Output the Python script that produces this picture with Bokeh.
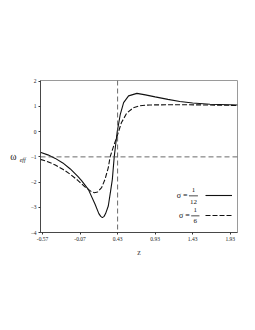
from bokeh.plotting import figure
from bokeh.models import (Range1d, FixedTicker, Span, Label, Legend, LegendItem,
                          BoxAnnotation, LinearAxis)
from bokeh.embed import file_html
from bokeh.resources import INLINE

# ---- data ----
z_a = [-0.6, -0.5, -0.4, -0.3, -0.2, -0.1, -0.05, 0.04, 0.13, 0.18, 0.205, 0.227,
       0.25, 0.27, 0.306, 0.337, 0.36, 0.385, 0.405, 0.425, 0.466, 0.51, 0.576,
       0.687, 0.8, 0.93, 1.1, 1.26, 1.43, 1.66, 2.03]
w_a = [-0.82, -0.92, -1.06, -1.24, -1.48, -1.77, -1.94, -2.29, -2.88, -3.25, -3.36, -3.41,
       -3.36, -3.25, -2.95, -2.35, -1.89, -1.0, -0.5, 0.0, 0.69, 1.15, 1.42,
       1.52, 1.46, 1.38, 1.28, 1.20, 1.14, 1.09, 1.06]

z_b = [-0.6, -0.5, -0.4, -0.3, -0.2, -0.1, -0.005, 0.041, 0.085, 0.12, 0.164, 0.217,
       0.262, 0.306, 0.33, 0.38, 0.43, 0.48, 0.55, 0.64, 0.73, 0.86, 1.2, 1.6, 2.03]
w_b = [-1.10, -1.19, -1.32, -1.49, -1.69, -1.93, -2.19, -2.29, -2.39, -2.42, -2.39, -2.22,
       -1.89, -1.43, -1.0, -0.55, -0.12, 0.35, 0.73, 0.95, 1.03, 1.06, 1.07, 1.06, 1.04]

x_ticks = [-0.57, -0.07, 0.43, 0.93, 1.43, 1.93]
x_tick_labels = ["-0.57", "-0.07", "0.43", "0.93", "1.43", "1.93"]
y_ticks = [-4, -3, -2, -1, 0, 1, 2]
ref_w = -1
ref_z = 0.43

SERIF = "Liberation Serif"

p = figure(width=247, height=322, output_backend="svg", toolbar_location=None,
           x_range=Range1d(-0.597, 2.027), y_range=Range1d(-4.0, 2.03),
           min_border_left=40, min_border_right=10, min_border_top=80,
           min_border_bottom=90, background_fill_color="white",
           border_fill_color="white")
p.grid.visible = False
p.outline_line_color = "#9a9a9a"
p.outline_line_width = 1

for ax in (p.xaxis[0], p.yaxis[0]):
    ax.axis_line_color = "#333333"
    ax.axis_line_width = 0.8
    ax.major_tick_line_color = "#333333"
    ax.major_tick_out = 2
    ax.major_tick_in = 0
    ax.minor_tick_line_color = None
    ax.major_label_text_font = SERIF
    ax.major_label_text_font_size = "5.5px"
    ax.major_label_text_color = "#222222"
    ax.major_label_standoff = 2

p.xaxis.ticker = FixedTicker(ticks=x_ticks)
p.xaxis.major_label_overrides = {t: l for t, l in zip(x_ticks, x_tick_labels)}
p.yaxis.ticker = FixedTicker(ticks=y_ticks)
p.xaxis.axis_label = "z"
p.xaxis.axis_label_text_font = SERIF
p.xaxis.axis_label_text_font_style = "normal"
p.xaxis.axis_label_text_font_size = "8px"
p.xaxis.axis_label_standoff = 4

# y-axis label  ω_eff : subscript on the inner axis, ω on an outer label-only axis
yax = p.yaxis[0]
yax.axis_label = "\neff"
yax.axis_label_orientation = "horizontal"
yax.axis_label_text_font = SERIF
yax.axis_label_text_font_size = "6px"
yax.axis_label_text_font_style = "italic"
yax.axis_label_text_color = "#111111"
yax.axis_label_standoff = 2

omega_axis = LinearAxis(axis_label="ω", ticker=FixedTicker(ticks=[]),
                        axis_line_color=None, major_tick_line_color=None,
                        minor_tick_line_color=None,
                        major_label_text_font_size="0px",
                        axis_label_orientation="horizontal",
                        axis_label_text_font=SERIF,
                        axis_label_text_font_size="9.5px",
                        axis_label_text_font_style="normal",
                        axis_label_text_color="#111111",
                        axis_label_standoff=0)
p.add_layout(omega_axis, "left")

# reference lines
p.add_layout(Span(location=ref_w, dimension="width", line_color="#444444",
                  line_width=0.8, line_dash="5 3"))
p.add_layout(Span(location=ref_z, dimension="height", line_color="#444444",
                  line_width=0.8, line_dash="5 3"))

r_a = p.line(z_a, w_a, line_color="#111111", line_width=1.1)
r_b = p.line(z_b, w_b, line_color="#111111", line_width=1.1, line_dash="5 2")

# legend samples (labels drawn separately as fractions)
leg = Legend(items=[LegendItem(label="", renderers=[r_a]),
                    LegendItem(label="", renderers=[r_b])],
             location=(165, 7), glyph_width=27, glyph_height=20, spacing=0,
             padding=0, margin=0, label_standoff=0, border_line_color=None,
             background_fill_alpha=0, label_text_font_size="1px")
p.add_layout(leg)

def lab(x, y, t, size, style="normal"):
    p.add_layout(Label(x=x, y=y, text=t, text_font=SERIF, text_font_size=size,
                       text_align="center", text_baseline="middle",
                       text_font_style=style, text_color="#111111"))

# legend text: sigma = 1/12 and sigma = 1/6
lab(1.29, -2.55, "σ =", "8px")
lab(1.44, -2.33, "1", "7px")
lab(1.44, -2.78, "12", "7px")
p.add_layout(BoxAnnotation(left=1.38, right=1.50, bottom=-2.565, top=-2.535,
                           fill_color="#111111", fill_alpha=1, line_color=None))
lab(1.32, -3.34, "σ =", "8px")
lab(1.465, -3.11, "1", "7px")
lab(1.465, -3.56, "6", "7px")
p.add_layout(BoxAnnotation(left=1.41, right=1.52, bottom=-3.355, top=-3.325,
                           fill_color="#111111", fill_alpha=1, line_color=None))

open("out.html", "w").write(file_html(p, INLINE))
